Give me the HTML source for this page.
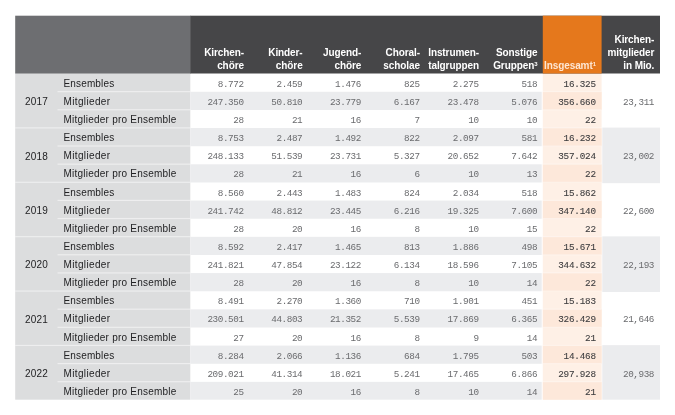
<!DOCTYPE html>
<html lang="de"><head><meta charset="utf-8"><title>Chöre und Ensembles</title>
<style>
html,body{margin:0;padding:0;background:#fff;}
body{width:675px;height:415px;overflow:hidden;}
svg{display:block;position:absolute;left:0;top:0;}
text{font-family:"Liberation Sans",sans-serif;}
.h{font-weight:bold;fill:#fff;font-size:10px;text-anchor:end;letter-spacing:-0.1px;}
.l{fill:#222224;font-size:10px;}
.l0{letter-spacing:0.15px;}
.l1{letter-spacing:0.36px;}
.l2{letter-spacing:0.23px;}
.y{fill:#222224;font-size:10px;text-anchor:middle;letter-spacing:0.2px;}
.n{font-family:"Liberation Mono",monospace;fill:#6a6b6e;font-size:9.3px;text-anchor:end;letter-spacing:-0.42px;}
.nb{font-family:"Liberation Mono",monospace;fill:#414042;font-size:9.3px;text-anchor:end;letter-spacing:-0.2px;stroke:#414042;stroke-width:0.1px;}
.ho{fill:#fee6d2;}
.s{font-size:6px;}
</style></head><body>
<svg width="675" height="415" viewBox="0 0 675 415">

<rect x="15.2" y="72.5" width="175.1" height="327.19" fill="#dcddde"/>
<rect x="542.8" y="72.5" width="58.8" height="327.19" fill="#fef0e6"/>
<rect x="542.8" y="91.78" width="58.8" height="18.18" fill="#fde8da"/>
<rect x="190.3" y="91.78" width="351.4" height="18.18" fill="#ebecee"/>
<rect x="542.8" y="128.04" width="58.8" height="18.18" fill="#fde8da"/>
<rect x="190.3" y="128.04" width="351.4" height="18.18" fill="#ebecee"/>
<rect x="542.8" y="164.3" width="58.8" height="18.18" fill="#fde8da"/>
<rect x="190.3" y="164.3" width="351.4" height="18.18" fill="#ebecee"/>
<rect x="542.8" y="200.56" width="58.8" height="18.18" fill="#fde8da"/>
<rect x="190.3" y="200.56" width="351.4" height="18.18" fill="#ebecee"/>
<rect x="542.8" y="236.82" width="58.8" height="18.18" fill="#fde8da"/>
<rect x="190.3" y="236.82" width="351.4" height="18.18" fill="#ebecee"/>
<rect x="542.8" y="273.08" width="58.8" height="18.18" fill="#fde8da"/>
<rect x="190.3" y="273.08" width="351.4" height="18.18" fill="#ebecee"/>
<rect x="542.8" y="309.34" width="58.8" height="18.18" fill="#fde8da"/>
<rect x="190.3" y="309.34" width="351.4" height="18.18" fill="#ebecee"/>
<rect x="542.8" y="345.6" width="58.8" height="18.18" fill="#fde8da"/>
<rect x="190.3" y="345.6" width="351.4" height="18.18" fill="#ebecee"/>
<rect x="542.8" y="381.86" width="58.8" height="17.83" fill="#fde8da"/>
<rect x="190.3" y="381.86" width="351.4" height="17.83" fill="#ebecee"/>
<rect x="602.3" y="127.59" width="57.7" height="55.59" fill="#ebecee"/>
<rect x="602.3" y="236.37" width="57.7" height="55.59" fill="#ebecee"/>
<rect x="602.3" y="345.15" width="57.7" height="54.54" fill="#ebecee"/>
<rect x="542.8" y="91.03" width="58.8" height="1.2" fill="#ffffff" fill-opacity="0.35"/>
<rect x="57.5" y="91.03" width="132.8" height="1.2" fill="#ffffff" fill-opacity="0.5"/>
<rect x="542.8" y="109.16" width="58.8" height="1.2" fill="#ffffff" fill-opacity="0.35"/>
<rect x="57.5" y="109.16" width="132.8" height="1.2" fill="#ffffff" fill-opacity="0.5"/>
<rect x="542.8" y="127.29" width="58.8" height="1.2" fill="#ffffff" fill-opacity="0.35"/>
<rect x="15.2" y="127.29" width="175.1" height="1.2" fill="#ffffff" fill-opacity="0.5"/>
<rect x="542.8" y="145.42" width="58.8" height="1.2" fill="#ffffff" fill-opacity="0.35"/>
<rect x="57.5" y="145.42" width="132.8" height="1.2" fill="#ffffff" fill-opacity="0.5"/>
<rect x="542.8" y="163.55" width="58.8" height="1.2" fill="#ffffff" fill-opacity="0.35"/>
<rect x="57.5" y="163.55" width="132.8" height="1.2" fill="#ffffff" fill-opacity="0.5"/>
<rect x="542.8" y="181.68" width="58.8" height="1.2" fill="#ffffff" fill-opacity="0.35"/>
<rect x="15.2" y="181.68" width="175.1" height="1.2" fill="#ffffff" fill-opacity="0.5"/>
<rect x="542.8" y="199.81" width="58.8" height="1.2" fill="#ffffff" fill-opacity="0.35"/>
<rect x="57.5" y="199.81" width="132.8" height="1.2" fill="#ffffff" fill-opacity="0.5"/>
<rect x="542.8" y="217.94" width="58.8" height="1.2" fill="#ffffff" fill-opacity="0.35"/>
<rect x="57.5" y="217.94" width="132.8" height="1.2" fill="#ffffff" fill-opacity="0.5"/>
<rect x="542.8" y="236.07" width="58.8" height="1.2" fill="#ffffff" fill-opacity="0.35"/>
<rect x="15.2" y="236.07" width="175.1" height="1.2" fill="#ffffff" fill-opacity="0.5"/>
<rect x="542.8" y="254.2" width="58.8" height="1.2" fill="#ffffff" fill-opacity="0.35"/>
<rect x="57.5" y="254.2" width="132.8" height="1.2" fill="#ffffff" fill-opacity="0.5"/>
<rect x="542.8" y="272.33" width="58.8" height="1.2" fill="#ffffff" fill-opacity="0.35"/>
<rect x="57.5" y="272.33" width="132.8" height="1.2" fill="#ffffff" fill-opacity="0.5"/>
<rect x="542.8" y="290.46" width="58.8" height="1.2" fill="#ffffff" fill-opacity="0.35"/>
<rect x="15.2" y="290.46" width="175.1" height="1.2" fill="#ffffff" fill-opacity="0.5"/>
<rect x="542.8" y="308.59" width="58.8" height="1.2" fill="#ffffff" fill-opacity="0.35"/>
<rect x="57.5" y="308.59" width="132.8" height="1.2" fill="#ffffff" fill-opacity="0.5"/>
<rect x="542.8" y="326.72" width="58.8" height="1.2" fill="#ffffff" fill-opacity="0.35"/>
<rect x="57.5" y="326.72" width="132.8" height="1.2" fill="#ffffff" fill-opacity="0.5"/>
<rect x="542.8" y="344.85" width="58.8" height="1.2" fill="#ffffff" fill-opacity="0.35"/>
<rect x="15.2" y="344.85" width="175.1" height="1.2" fill="#ffffff" fill-opacity="0.5"/>
<rect x="542.8" y="362.98" width="58.8" height="1.2" fill="#ffffff" fill-opacity="0.35"/>
<rect x="57.5" y="362.98" width="132.8" height="1.2" fill="#ffffff" fill-opacity="0.5"/>
<rect x="542.8" y="381.11" width="58.8" height="1.2" fill="#ffffff" fill-opacity="0.35"/>
<rect x="57.5" y="381.11" width="132.8" height="1.2" fill="#ffffff" fill-opacity="0.5"/>
<rect x="15.2" y="15.7" width="175.6" height="57.8" fill="#6d6e71"/>
<rect x="190.3" y="15.7" width="469.7" height="57.8" fill="#464648"/>
<rect x="542.8" y="15.7" width="58.8" height="57.8" fill="#e5781c"/>
<text class="h" x="243.9" y="56">Kirchen-</text>
<text class="h" x="243.9" y="69">chöre</text>
<text class="h" x="302.6" y="56">Kinder-</text>
<text class="h" x="302.6" y="69">chöre</text>
<text class="h" x="361.2" y="56">Jugend-</text>
<text class="h" x="361.2" y="69">chöre</text>
<text class="h" x="419.9" y="56">Choral-</text>
<text class="h" x="419.9" y="69">scholae</text>
<text class="h" x="478.9" y="56">Instrumen-</text>
<text class="h" x="478.9" y="69">talgruppen</text>
<text class="h" x="537.4" y="56">Sonstige</text>
<text class="h" x="537.4" y="69">Gruppen<tspan class="s" dy="-3.3">3</tspan></text>
<text class="h ho" x="595.9" y="69">Insgesamt<tspan class="s" dy="-3.3">1</tspan></text>
<text class="h" x="654.3" y="43">Kirchen-</text>
<text class="h" x="654.3" y="56">mitglieder</text>
<text class="h" x="654.3" y="69">in Mio.</text>
<text class="y" x="36.55" y="105.23">2017</text>
<text class="n" x="653.98" y="104.93">23,311</text>
<text class="l l0" x="63.5" y="86.8">Ensembles</text>
<text class="n" x="243.58" y="86.8">8.772</text>
<text class="n" x="302.28" y="86.8">2.459</text>
<text class="n" x="360.88" y="86.8">1.476</text>
<text class="n" x="419.58" y="86.8">825</text>
<text class="n" x="478.58" y="86.8">2.275</text>
<text class="n" x="537.08" y="86.8">518</text>
<text class="nb" x="595.8" y="86.8">16.325</text>
<text class="l l1" x="63.5" y="104.93">Mitglieder</text>
<text class="n" x="243.58" y="104.93">247.350</text>
<text class="n" x="302.28" y="104.93">50.810</text>
<text class="n" x="360.88" y="104.93">23.779</text>
<text class="n" x="419.58" y="104.93">6.167</text>
<text class="n" x="478.58" y="104.93">23.478</text>
<text class="n" x="537.08" y="104.93">5.076</text>
<text class="nb" x="595.8" y="104.93">356.660</text>
<text class="l l2" x="63.5" y="123.06">Mitglieder pro Ensemble</text>
<text class="n" x="243.58" y="123.06">28</text>
<text class="n" x="302.28" y="123.06">21</text>
<text class="n" x="360.88" y="123.06">16</text>
<text class="n" x="419.58" y="123.06">7</text>
<text class="n" x="478.58" y="123.06">10</text>
<text class="n" x="537.08" y="123.06">10</text>
<text class="nb" x="595.8" y="123.06">22</text>
<text class="y" x="36.55" y="159.62">2018</text>
<text class="n" x="653.98" y="159.32">23,002</text>
<text class="l l0" x="63.5" y="141.19">Ensembles</text>
<text class="n" x="243.58" y="141.19">8.753</text>
<text class="n" x="302.28" y="141.19">2.487</text>
<text class="n" x="360.88" y="141.19">1.492</text>
<text class="n" x="419.58" y="141.19">822</text>
<text class="n" x="478.58" y="141.19">2.097</text>
<text class="n" x="537.08" y="141.19">581</text>
<text class="nb" x="595.8" y="141.19">16.232</text>
<text class="l l1" x="63.5" y="159.32">Mitglieder</text>
<text class="n" x="243.58" y="159.32">248.133</text>
<text class="n" x="302.28" y="159.32">51.539</text>
<text class="n" x="360.88" y="159.32">23.731</text>
<text class="n" x="419.58" y="159.32">5.327</text>
<text class="n" x="478.58" y="159.32">20.652</text>
<text class="n" x="537.08" y="159.32">7.642</text>
<text class="nb" x="595.8" y="159.32">357.024</text>
<text class="l l2" x="63.5" y="177.45">Mitglieder pro Ensemble</text>
<text class="n" x="243.58" y="177.45">28</text>
<text class="n" x="302.28" y="177.45">21</text>
<text class="n" x="360.88" y="177.45">16</text>
<text class="n" x="419.58" y="177.45">6</text>
<text class="n" x="478.58" y="177.45">10</text>
<text class="n" x="537.08" y="177.45">13</text>
<text class="nb" x="595.8" y="177.45">22</text>
<text class="y" x="36.55" y="214.01">2019</text>
<text class="n" x="653.98" y="213.71">22,600</text>
<text class="l l0" x="63.5" y="195.58">Ensembles</text>
<text class="n" x="243.58" y="195.58">8.560</text>
<text class="n" x="302.28" y="195.58">2.443</text>
<text class="n" x="360.88" y="195.58">1.483</text>
<text class="n" x="419.58" y="195.58">824</text>
<text class="n" x="478.58" y="195.58">2.034</text>
<text class="n" x="537.08" y="195.58">518</text>
<text class="nb" x="595.8" y="195.58">15.862</text>
<text class="l l1" x="63.5" y="213.71">Mitglieder</text>
<text class="n" x="243.58" y="213.71">241.742</text>
<text class="n" x="302.28" y="213.71">48.812</text>
<text class="n" x="360.88" y="213.71">23.445</text>
<text class="n" x="419.58" y="213.71">6.216</text>
<text class="n" x="478.58" y="213.71">19.325</text>
<text class="n" x="537.08" y="213.71">7.600</text>
<text class="nb" x="595.8" y="213.71">347.140</text>
<text class="l l2" x="63.5" y="231.84">Mitglieder pro Ensemble</text>
<text class="n" x="243.58" y="231.84">28</text>
<text class="n" x="302.28" y="231.84">20</text>
<text class="n" x="360.88" y="231.84">16</text>
<text class="n" x="419.58" y="231.84">8</text>
<text class="n" x="478.58" y="231.84">10</text>
<text class="n" x="537.08" y="231.84">15</text>
<text class="nb" x="595.8" y="231.84">22</text>
<text class="y" x="36.55" y="268.4">2020</text>
<text class="n" x="653.98" y="268.1">22,193</text>
<text class="l l0" x="63.5" y="249.97">Ensembles</text>
<text class="n" x="243.58" y="249.97">8.592</text>
<text class="n" x="302.28" y="249.97">2.417</text>
<text class="n" x="360.88" y="249.97">1.465</text>
<text class="n" x="419.58" y="249.97">813</text>
<text class="n" x="478.58" y="249.97">1.886</text>
<text class="n" x="537.08" y="249.97">498</text>
<text class="nb" x="595.8" y="249.97">15.671</text>
<text class="l l1" x="63.5" y="268.1">Mitglieder</text>
<text class="n" x="243.58" y="268.1">241.821</text>
<text class="n" x="302.28" y="268.1">47.854</text>
<text class="n" x="360.88" y="268.1">23.122</text>
<text class="n" x="419.58" y="268.1">6.134</text>
<text class="n" x="478.58" y="268.1">18.596</text>
<text class="n" x="537.08" y="268.1">7.105</text>
<text class="nb" x="595.8" y="268.1">344.632</text>
<text class="l l2" x="63.5" y="286.23">Mitglieder pro Ensemble</text>
<text class="n" x="243.58" y="286.23">28</text>
<text class="n" x="302.28" y="286.23">20</text>
<text class="n" x="360.88" y="286.23">16</text>
<text class="n" x="419.58" y="286.23">8</text>
<text class="n" x="478.58" y="286.23">10</text>
<text class="n" x="537.08" y="286.23">14</text>
<text class="nb" x="595.8" y="286.23">22</text>
<text class="y" x="36.55" y="322.79">2021</text>
<text class="n" x="653.98" y="322.49">21,646</text>
<text class="l l0" x="63.5" y="304.36">Ensembles</text>
<text class="n" x="243.58" y="304.36">8.491</text>
<text class="n" x="302.28" y="304.36">2.270</text>
<text class="n" x="360.88" y="304.36">1.360</text>
<text class="n" x="419.58" y="304.36">710</text>
<text class="n" x="478.58" y="304.36">1.901</text>
<text class="n" x="537.08" y="304.36">451</text>
<text class="nb" x="595.8" y="304.36">15.183</text>
<text class="l l1" x="63.5" y="322.49">Mitglieder</text>
<text class="n" x="243.58" y="322.49">230.501</text>
<text class="n" x="302.28" y="322.49">44.803</text>
<text class="n" x="360.88" y="322.49">21.352</text>
<text class="n" x="419.58" y="322.49">5.539</text>
<text class="n" x="478.58" y="322.49">17.869</text>
<text class="n" x="537.08" y="322.49">6.365</text>
<text class="nb" x="595.8" y="322.49">326.429</text>
<text class="l l2" x="63.5" y="340.62">Mitglieder pro Ensemble</text>
<text class="n" x="243.58" y="340.62">27</text>
<text class="n" x="302.28" y="340.62">20</text>
<text class="n" x="360.88" y="340.62">16</text>
<text class="n" x="419.58" y="340.62">8</text>
<text class="n" x="478.58" y="340.62">9</text>
<text class="n" x="537.08" y="340.62">14</text>
<text class="nb" x="595.8" y="340.62">21</text>
<text class="y" x="36.55" y="377.18">2022</text>
<text class="n" x="653.98" y="376.88">20,938</text>
<text class="l l0" x="63.5" y="358.75">Ensembles</text>
<text class="n" x="243.58" y="358.75">8.284</text>
<text class="n" x="302.28" y="358.75">2.066</text>
<text class="n" x="360.88" y="358.75">1.136</text>
<text class="n" x="419.58" y="358.75">684</text>
<text class="n" x="478.58" y="358.75">1.795</text>
<text class="n" x="537.08" y="358.75">503</text>
<text class="nb" x="595.8" y="358.75">14.468</text>
<text class="l l1" x="63.5" y="376.88">Mitglieder</text>
<text class="n" x="243.58" y="376.88">209.021</text>
<text class="n" x="302.28" y="376.88">41.314</text>
<text class="n" x="360.88" y="376.88">18.021</text>
<text class="n" x="419.58" y="376.88">5.241</text>
<text class="n" x="478.58" y="376.88">17.465</text>
<text class="n" x="537.08" y="376.88">6.866</text>
<text class="nb" x="595.8" y="376.88">297.928</text>
<text class="l l2" x="63.5" y="395.01">Mitglieder pro Ensemble</text>
<text class="n" x="243.58" y="395.01">25</text>
<text class="n" x="302.28" y="395.01">20</text>
<text class="n" x="360.88" y="395.01">16</text>
<text class="n" x="419.58" y="395.01">8</text>
<text class="n" x="478.58" y="395.01">10</text>
<text class="n" x="537.08" y="395.01">14</text>
<text class="nb" x="595.8" y="395.01">21</text>
</svg>
</body></html>
